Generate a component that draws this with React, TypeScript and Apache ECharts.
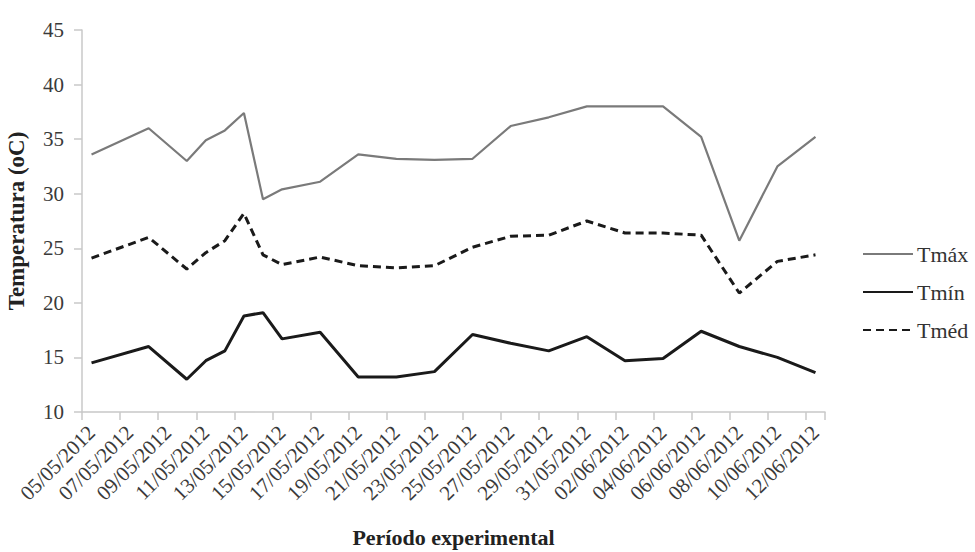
import React, { useEffect, useRef } from "react";
import * as echarts from "echarts";

const categories = [
  "05/05/2012", "06/05/2012", "07/05/2012", "08/05/2012", "09/05/2012", "10/05/2012",
  "11/05/2012", "12/05/2012", "13/05/2012", "14/05/2012", "15/05/2012", "16/05/2012",
  "17/05/2012", "18/05/2012", "19/05/2012", "20/05/2012", "21/05/2012", "22/05/2012",
  "23/05/2012", "24/05/2012", "25/05/2012", "26/05/2012", "27/05/2012", "28/05/2012",
  "29/05/2012", "30/05/2012", "31/05/2012", "01/06/2012", "02/06/2012", "03/06/2012",
  "04/06/2012", "05/06/2012", "06/06/2012", "07/06/2012", "08/06/2012", "09/06/2012",
  "10/06/2012", "11/06/2012", "12/06/2012",
];

const measuredDates = [
  "05/05/2012", "08/05/2012", "10/05/2012", "11/05/2012", "12/05/2012", "13/05/2012",
  "14/05/2012", "15/05/2012", "17/05/2012", "19/05/2012", "21/05/2012", "23/05/2012",
  "25/05/2012", "27/05/2012", "29/05/2012", "31/05/2012", "02/06/2012", "04/06/2012",
  "06/06/2012", "08/06/2012", "10/06/2012", "12/06/2012",
];

const tmax = [33.6, 36.0, 33.0, 34.9, 35.8, 37.4, 29.5, 30.4, 31.1, 33.6, 33.2, 33.1, 33.2, 36.2, 37.0, 38.0, 38.0, 38.0, 35.2, 25.7, 32.5, 35.2];
const tmin = [14.5, 16.0, 13.0, 14.7, 15.6, 18.8, 19.1, 16.7, 17.3, 13.2, 13.2, 13.7, 17.1, 16.3, 15.6, 16.9, 14.7, 14.9, 17.4, 16.0, 15.0, 13.6];
const tmed = [24.1, 26.0, 23.1, 24.6, 25.7, 28.2, 24.4, 23.5, 24.2, 23.4, 23.2, 23.4, 25.1, 26.1, 26.2, 27.5, 26.4, 26.4, 26.2, 20.9, 23.8, 24.4];

const yTicks = { min: 10, max: 45, interval: 5 };

const FONT = "Times New Roman";

export default function App() {
  const ref = useRef<HTMLDivElement>(null);
  useEffect(() => {
    if (!ref.current) return;
    const chart = echarts.init(ref.current, null, { renderer: "svg" });
    const pair = (vals: number[]) => measuredDates.map((d, i) => [d, vals[i]]);
    chart.setOption({
      animation: false,
      backgroundColor: "#ffffff",
      textStyle: { fontFamily: FONT },
      grid: { left: 82, right: 150, top: 30, bottom: 140, containLabel: false, outerBoundsMode: "none" },
      legend: {
        orient: "vertical",
        left: 862,
        top: 243,
        padding: 0,
        itemWidth: 50,
        itemHeight: 14,
        itemGap: 16,
        itemStyle: { opacity: 0 },
        textStyle: { fontFamily: FONT, fontSize: 22, fontWeight: "normal", color: "#333", padding: [0, 0, 0, -1] },
        data: ["Tmáx", "Tmín", "Tméd"],
      },
      xAxis: {
        type: "category",
        data: categories,
        boundaryGap: true,
        name: "Período experimental",
        nameLocation: "middle",
        nameGap: 114,
        nameTextStyle: { fontFamily: FONT, fontSize: 22, fontWeight: "bold", color: "#222" },
        axisLine: { show: true, lineStyle: { color: "#c8c8c8", width: 1.5 } },
        axisTick: { show: true, interval: 1, length: 8, lineStyle: { color: "#c8c8c8", width: 1.5 } },
        axisLabel: {
          interval: 1,
          rotate: 45,
          margin: 17,
          fontFamily: FONT,
          fontWeight: "normal",
          fontSize: 21,
          color: "#3a3a3a",
        },
        splitLine: { show: false },
      },
      yAxis: {
        type: "value",
        min: yTicks.min,
        max: yTicks.max,
        interval: yTicks.interval,
        name: "Temperatura (oC)",
        nameLocation: "middle",
        nameGap: 54,
        nameTextStyle: { fontFamily: FONT, fontSize: 23, fontWeight: "bold", color: "#222" },
        axisLine: { show: true, lineStyle: { color: "#c8c8c8", width: 1.5 } },
        axisTick: { show: true, length: 8, lineStyle: { color: "#c8c8c8", width: 1.5 } },
        axisLabel: { margin: 18, fontFamily: FONT, fontWeight: "normal", fontSize: 21, color: "#3a3a3a" },
        splitLine: { show: false },
      },
      series: [
        {
          name: "Tmáx",
          type: "line",
          data: pair(tmax),
          symbol: "none",
          lineStyle: { color: "#7a7a7a", width: 2.2 },
          itemStyle: { color: "#7a7a7a" },
        },
        {
          name: "Tmín",
          type: "line",
          data: pair(tmin),
          symbol: "none",
          lineStyle: { color: "#1a1a1a", width: 3 },
          itemStyle: { color: "#1a1a1a" },
        },
        {
          name: "Tméd",
          type: "line",
          data: pair(tmed),
          symbol: "none",
          lineStyle: { color: "#1a1a1a", width: 3, type: [8, 5] },
          itemStyle: { color: "#1a1a1a" },
        },
      ],
    });
    return () => chart.dispose();
  }, []);
  return <div ref={ref} style={{ width: 975, height: 552, position: "absolute", left: 0, top: 0 }} />;
}
